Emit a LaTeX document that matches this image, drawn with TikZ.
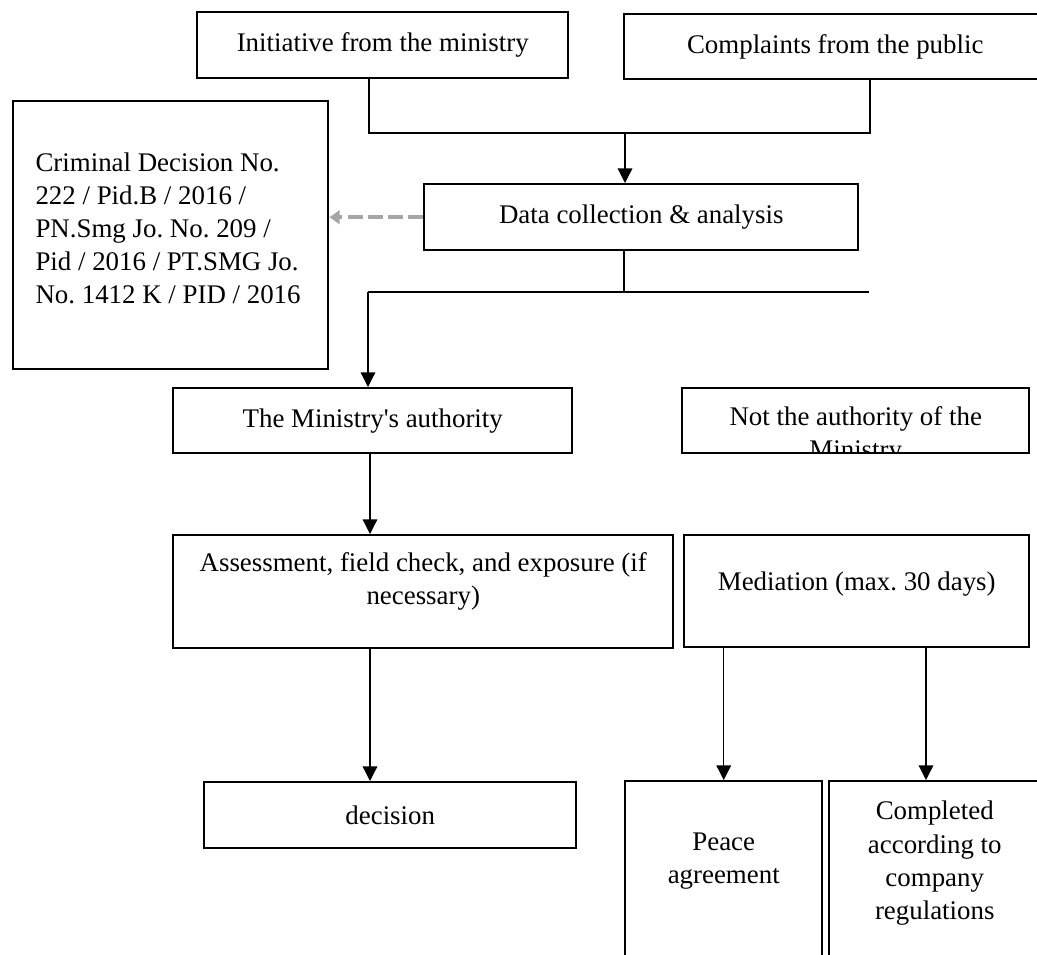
\documentclass[tikz,border=0pt]{standalone}
\usepackage{fontspec}
\setmainfont{Liberation Serif}
\usetikzlibrary{arrows.meta}

\definecolor{refgray}{HTML}{A6A6A6}
\tikzset{
  box/.style 2 args={draw, line width=1.1pt, inner sep=0pt, align=center, anchor=north west,
    minimum width=#1*0.4464pt, minimum height=#2*0.4464pt},
  txt/.style={draw=none, fill=none, inner sep=0pt, align=center, anchor=center,
    minimum width=0pt, minimum height=0pt},
  line/.style={line width=0.55pt},
  arr/.style={line, -{Triangle[length=6.5pt, width=6.5pt]}},
  dasharr/.style={draw=refgray, line width=1.6pt, dash pattern=on 6.5pt off 2.5pt,
    -{Triangle[length=4.5pt, width=6pt]}},
}

\begin{document}
\frenchspacing
\begin{tikzpicture}[x=0.4464pt, y=-0.4464pt, font=\fontsize{12}{14.8}\selectfont]
  \useasboundingbox (0,0) rectangle (1037,954);
  \clip (0,0) rectangle (1037,954);

  % where the cases come from
  \node[box={371}{66}] (ini) at (196,11) {Initiative from the ministry};
  \node[box={422}{65}] (cmp) at (623,13) {Complaints from the public};
  \node[box={434}{66}] (data) at (423,183) {Data collection \& analysis};
  \node[box={315}{268}, path picture={
      \node[txt, align=left, anchor=west] at ([xshift=9.4pt, yshift=3pt]path picture bounding box.west)
        {Criminal Decision No.\\ 222 / Pid.B / 2016 /\\ PN.Smg Jo. No. 209 /\\
         Pid / 2016 / PT.SMG Jo.\\ No. 1412 K / PID / 2016};}] (crim) at (12,100) {};

  % authority check
  \node[box={399}{65}] (auth) at (172,387) {The Ministry\textquotesingle s authority};
  \node[box={347}{65}, path picture={
      \node[txt] at ([yshift=-21pt]path picture bounding box.north)
        {Not the authority of the\\ Ministry};}] (notauth) at (681,387) {};

  % handling
  \node[box={500}{113}, path picture={
      \node[txt] at ([yshift=-20.5pt]path picture bounding box.north)
        {Assessment, field check, and exposure (if\\ necessary)};}] (assess) at (172,534) {};
  \node[box={345}{112}, path picture={
      \node[txt] at ([yshift=-21.7pt]path picture bounding box.north)
        {Mediation (max. 30 days)};}] (med) at (683,534) {};

  % outcomes
  \node[box={372}{66}] (dec) at (203,781) {decision};
  \node[box={197}{220}, path picture={
      \node[txt] at ([yshift=-35.7pt]path picture bounding box.north)
        {Peace\\ agreement};}] (peace) at (624,780) {};
  \node[box={211}{220}, path picture={
      \node[txt] at ([yshift=-36.6pt]path picture bounding box.north)
        {Completed\\ according to\\ company\\ regulations};}] (compl) at (828,780) {};

  % junctions
  \coordinate (lt) at (369,133);
  \coordinate (rt) at (870,133);
  \coordinate (mrg) at (625,133);
  \coordinate (spl) at (624,292);
  \coordinate (sl) at (368,292);
  \coordinate (sr) at (869,292);
  \coordinate (lane) at (370,0);
  \coordinate (rlane) at (926,0);

  \draw[line] (ini.south -| lt) -- (lt) -- (rt) -- (cmp.south -| rt);
  \draw[arr] (mrg) -- (data.north -| mrg);
  \draw[dasharr] (data.west) -- (crim.east |- data.west);
  \draw[line] (data.south -| spl) -- (spl);
  \draw[line] (sl) -- (sr);
  \draw[arr] (sl) -- (auth.north -| sl);
  \draw[arr] (auth.south -| lane) -- (assess.north -| lane);
  \draw[arr] (assess.south -| lane) -- (dec.north -| lane);
  \draw[arr] (med.south -| peace.north) -- (peace.north);
  \draw[arr] (med.south -| rlane) -- (compl.north -| rlane);
\end{tikzpicture}
\end{document}
